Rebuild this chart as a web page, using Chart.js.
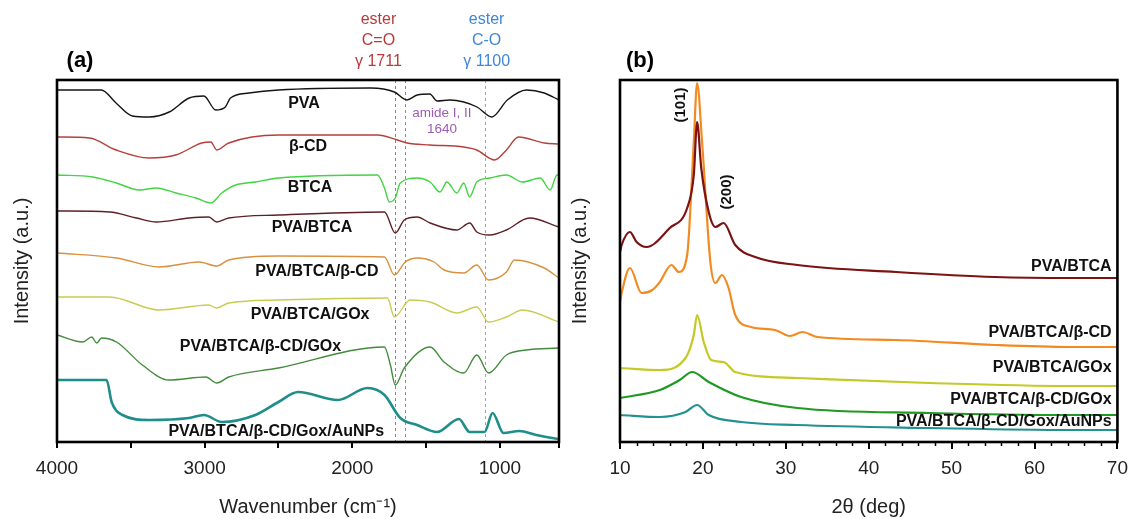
<!DOCTYPE html>
<html>
<head>
<meta charset="utf-8">
<script src="https://cdn.jsdelivr.net/npm/chart.js"></script>
<style>
  body { margin: 0; background: #fff; width: 1136px; height: 519px; position: relative; overflow: hidden; }
  canvas { position: absolute; top: 0; }
  #ftir { left: 0; }
  #xrd { left: 556px; }
</style>
</head>
<body>
<canvas id="ftir" width="568" height="519"></canvas>
<canvas id="xrd" width="580" height="519"></canvas>

<script>
// ---------- (a) FTIR : [wavenumber, offset intensity] ----------
const wnTicks = [4000, 3500, 3000, 2500, 2000, 1500, 1000, 600];
const ftirNames = ['PVA', 'β-CD', 'BTCA', 'PVA/BTCA', 'PVA/BTCA/β-CD', 'PVA/BTCA/GOx', 'PVA/BTCA/β-CD/GOx', 'PVA/BTCA/β-CD/Gox/AuNPs'];

const pva = [[4000,352],[3700,352],[3600,339],[3490,326],[3375,325],[3240,330],[3105,344],[3005,346],[2925,332],[2860,335],[2825,344],[2700,349],[2500,352],[1875,354],[1715,350],[1630,342],[1560,347],[1475,348],[1425,341],[1340,342],[1245,340],[1155,335],[1055,325],[950,342],[820,352],[700,349],[600,342]];
const betaCD = [[4000,305],[3780,304],[3600,292],[3375,284],[3195,287],[3020,299],[2958,300],[2918,292],[2837,299],[2500,307],[1830,307],[1695,302],[1630,299],[1473,297],[1245,295],[1157,292],[1036,282],[956,292],[875,305],[700,299],[600,298]];
const btca = [[4000,267],[3758,265],[3597,259],[3442,252],[3328,254],[3194,249],[3059,244],[2958,239],[2884,249],[2790,257],[2656,260],[2500,264],[1830,267],[1782,254],[1749,240],[1709,244],[1675,259],[1561,264],[1473,260],[1406,250],[1359,260],[1292,249],[1245,259],[1205,245],[1157,260],[1070,264],[956,267],[848,260],[727,264],[660,252],[613,267],[600,267]];
const pvaBtca = [[4000,231],[3644,230],[3462,224],[3328,220],[3106,224],[2972,225],[2918,220],[2837,224],[2500,227],[1782,230],[1709,209],[1648,222],[1561,225],[1473,219],[1292,212],[1205,219],[1157,210],[1070,207],[956,212],[801,224],[600,215]];
const pvaBtcaCD = [[4000,189],[3597,184],[3308,175],[3039,180],[2918,176],[2837,182],[2500,186],[1782,185],[1715,167],[1641,180],[1561,184],[1446,180],[1379,172],[1245,169],[1157,177],[1077,162],[956,170],[902,182],[700,174],[600,164]];
const pvaBtcaGox = [[4000,145],[3644,145],[3308,132],[2972,137],[2918,134],[2837,139],[2500,142],[1762,144],[1715,125],[1608,142],[1473,140],[1292,129],[1157,135],[1077,120],[956,125],[848,132],[600,120]];
const pvaBtcaCDGox = [[4000,107],[3825,100],[3765,105],[3731,99],[3698,104],[3597,100],[3422,77],[3241,62],[2992,65],[2918,59],[2837,65],[2500,74],[1782,95],[1742,77],[1709,57],[1648,74],[1473,95],[1379,80],[1245,69],[1157,87],[1077,69],[956,87],[821,92],[600,94]];
const pvaBtcaCDGoxAu = [[4000,62],[3664,62],[3630,40],[3556,27],[3375,22],[3106,24],[3005,27],[2884,20],[2656,27],[2500,40],[2367,50],[2098,42],[1897,54],[1782,47],[1675,24],[1561,17],[1426,10],[1278,23],[1205,10],[1104,10],[1050,29],[976,9],[869,11],[754,7],[606,3]];

const ftirColors = ['#151515', '#b5403b', '#42d442', '#5e2025', '#d9913f', '#c8cc52', '#438c3c', '#1f8e8a'];
const ftirLabelPos = [[2327,338],[2300,295],[2286,254],[2273,214],[2240,170],[2286,127],[2622,95],[2515,10]];
const bandLines = [1711, 1640, 1100];

// ---------- (b) XRD : [2θ, offset intensity] ----------
const degTicks = [10, 20, 30, 40, 50, 60, 70];
const degMinor = [12, 14, 16, 18, 22, 24, 26, 28, 32, 34, 36, 38, 42, 44, 46, 48, 52, 54, 56, 58, 62, 64, 66, 68];
const xrdNames = ['PVA/BTCA', 'PVA/BTCA/β-CD', 'PVA/BTCA/GOx', 'PVA/BTCA/β-CD/GOx', 'PVA/BTCA/β-CD/Gox/AuNPs'];

const xPvaBtca = [[10,190],[10.2,197],[11.2,210],[12,200],[13.2,195],[16,214],[18.1,234],[18.9,267],[19.3,320],[19.8,274],[20.7,230],[21.5,215],[22.5,219],[23.9,197],[26.3,185],[31.4,177],[43.3,170],[55.2,165],[64.2,164],[70,164]];
const xPvaBtcaCD = [[10,140],[10.2,149],[11.2,174],[12.6,149],[13.9,152],[14.8,160],[16.2,177],[17.1,170],[18.1,187],[18.9,300],[19.3,359],[19.9,300],[20.9,180],[21.5,159],[22.3,167],[23.1,154],[23.9,127],[25.8,115],[28.7,112],[30.5,106],[32,110],[33.8,105],[43.3,102],[55.2,97],[64.2,95],[70,95]];
const xPvaBtcaGox = [[10,74],[14.8,72],[17.9,84],[18.9,107],[19.3,127],[20.1,100],[21,82],[22.5,80],[23.9,70],[31.4,64],[47.3,59],[64.2,56],[70,56]];
const xPvaBtcaCDGox = [[10,44],[14.8,52],[17.2,62],[18.7,70],[20.7,60],[24.6,45],[31.4,34],[47.3,29],[64.2,27],[70,27]];
const xAu = [[10,27],[14.8,25],[17.9,30],[19.3,37],[20.7,27],[24.6,20],[31.4,17],[47.3,14],[64.2,12],[70,12]];

const xrdColors = ['#7c1212', '#f28a22', '#c3c927', '#1e9a22', '#23918f'];
const xrdLabelY = [175, 109, 74, 42, 20];

const FONT = '"Liberation Sans", Arial, sans-serif';
const toXY = arr => arr.map(p => ({ x: p[0], y: p[1] }));

const framePlugin = {
  id: 'frame',
  afterDraw(c) {
    const { ctx, chartArea: a } = c;
    ctx.save();
    ctx.lineWidth = 2.6;
    ctx.strokeStyle = '#000';
    ctx.strokeRect(a.left, a.top, a.right - a.left, a.bottom - a.top);
    ctx.restore();
  }
};

function yAxis(width, pad) {
  return {
    min: 0, max: 362,
    ticks: { display: false },
    grid: { display: false },
    border: { display: false },
    title: { display: true, text: 'Intensity (a.u.)', color: '#222', font: { family: FONT, size: 20 }, padding: { top: pad, bottom: 0 } },
    afterFit(s) { s.width = width; }
  };
}

// ---------- chart (a) ----------
const ftirSeries = [pva, betaCD, btca, pvaBtca, pvaBtcaCD, pvaBtcaGox, pvaBtcaCDGox, pvaBtcaCDGoxAu];

const ftirExtras = {
  id: 'ftirExtras',
  beforeDatasetsDraw(c) {
    const { ctx, chartArea: a, scales: { x } } = c;
    const cols = ['#c56a6a', '#9a7ec4', '#6ab8d6'];
    ctx.save();
    ctx.lineWidth = 1;
    ctx.setLineDash([3, 3]);
    bandLines.forEach((v, i) => {
      const px = Math.round(x.getPixelForValue(v)) + 0.5;
      ctx.strokeStyle = cols[i];
      ctx.beginPath(); ctx.moveTo(px, a.top); ctx.lineTo(px, a.bottom); ctx.stroke();
    });
    ctx.restore();
  },
  afterDraw(c) {
    const { ctx, scales: { x, y } } = c;
    ctx.save();
    ctx.textAlign = 'center';
    ctx.textBaseline = 'middle';
    ctx.fillStyle = '#111';
    ctx.font = 'bold 16px ' + FONT;
    ftirNames.forEach((n, i) => {
      ctx.fillText(n, x.getPixelForValue(ftirLabelPos[i][0]), y.getPixelForValue(ftirLabelPos[i][1]));
    });
    // band annotations
    ctx.font = '16px ' + FONT;
    ctx.fillStyle = '#b83a3a';
    const rx = x.getPixelForValue(1823);
    ['ester', 'C=O', 'γ 1711'].forEach((t, i) => ctx.fillText(t, rx, 20 + i * 21));
    ctx.fillStyle = '#3f86d6';
    const bx = x.getPixelForValue(1090);
    ['ester', 'C-O', 'γ 1100'].forEach((t, i) => ctx.fillText(t, bx, 20 + i * 21));
    ctx.font = '13.5px ' + FONT;
    ctx.fillStyle = '#9a5cb4';
    const ax = x.getPixelForValue(1393);
    ctx.fillText('amide I, II', ax, 113);
    ctx.fillText('1640', ax, 129);
    ctx.font = 'bold 22px ' + FONT;
    ctx.fillStyle = '#000';
    ctx.fillText('(a)', 80, 61);
    ctx.restore();
  }
};

new Chart(document.getElementById('ftir'), {
  type: 'line',
  data: {
    datasets: ftirSeries.map((s, i) => ({
      label: ftirNames[i],
      data: toXY(s),
      borderColor: ftirColors[i],
      borderWidth: i === 7 ? 2.6 : 1.4,
      pointRadius: 0,
      cubicInterpolationMode: 'monotone',
      fill: false
    }))
  },
  options: {
    responsive: false,
    animation: false,
    layout: { padding: { top: 80, left: 0, right: 5, bottom: 0 } },
    plugins: { legend: { display: false }, tooltip: { enabled: false } },
    scales: {
      x: {
        type: 'linear', reverse: true, min: 600, max: 4000,
        afterBuildTicks(s) { s.ticks = wnTicks.map(v => ({ value: v })); },
        ticks: { callback: v => (v % 1000 === 0 ? v : ''), color: '#222', font: { family: FONT, size: 19 }, padding: 9, maxRotation: 0, autoSkip: false },
        grid: { drawOnChartArea: false, drawTicks: true, tickLength: 6, color: '#000', lineWidth: 2 },
        border: { display: false },
        title: { display: true, text: 'Wavenumber (cm⁻¹)', color: '#222', font: { family: FONT, size: 20 }, padding: { top: 0, bottom: 0 } },
        afterFit(s) { s.height = 77; }
      },
      y: yAxis(57, 10)
    }
  },
  plugins: [ftirExtras, framePlugin]
});

// ---------- chart (b) ----------
const xrdSeries = [xPvaBtca, xPvaBtcaCD, xPvaBtcaGox, xPvaBtcaCDGox, xAu];

const xrdExtras = {
  id: 'xrdExtras',
  afterDraw(c) {
    const { ctx, chartArea: a, scales: { x, y } } = c;
    ctx.save();
    ctx.strokeStyle = '#000';
    ctx.lineWidth = 1.5;
    degMinor.forEach(v => {
      const px = Math.round(x.getPixelForValue(v)) + 0.5;
      ctx.beginPath(); ctx.moveTo(px, a.bottom); ctx.lineTo(px, a.bottom + 4); ctx.stroke();
    });
    ctx.fillStyle = '#111';
    ctx.font = 'bold 16px ' + FONT;
    ctx.textAlign = 'right';
    ctx.textBaseline = 'middle';
    xrdNames.forEach((n, i) => ctx.fillText(n, x.getPixelForValue(69.3), y.getPixelForValue(xrdLabelY[i])));
    // peak indices
    ctx.font = 'bold 15px ' + FONT;
    ctx.textAlign = 'center';
    [['(101)', 17.4, 337], ['(200)', 22.9, 250]].forEach(p => {
      ctx.save();
      ctx.translate(x.getPixelForValue(p[1]), y.getPixelForValue(p[2]));
      ctx.rotate(-Math.PI / 2);
      ctx.fillText(p[0], 0, 0);
      ctx.restore();
    });
    ctx.font = 'bold 22px ' + FONT;
    ctx.fillStyle = '#000';
    ctx.fillText('(b)', 84, 61);
    ctx.restore();
  }
};

new Chart(document.getElementById('xrd'), {
  type: 'line',
  data: {
    datasets: xrdSeries.map((s, i) => ({
      label: xrdNames[i],
      data: toXY(s),
      borderColor: xrdColors[i],
      borderWidth: 2.2,
      pointRadius: 0,
      cubicInterpolationMode: 'monotone',
      fill: false
    }))
  },
  options: {
    responsive: false,
    animation: false,
    layout: { padding: { top: 80, left: 0, right: 12, bottom: 0 } },
    plugins: { legend: { display: false }, tooltip: { enabled: false } },
    scales: {
      x: {
        type: 'linear', min: 10, max: 70,
        afterBuildTicks(s) { s.ticks = degTicks.map(v => ({ value: v })); },
        ticks: { color: '#222', font: { family: FONT, size: 19 }, padding: 8, maxRotation: 0, autoSkip: false },
        grid: { drawOnChartArea: false, drawTicks: true, tickLength: 7, color: '#000', lineWidth: 2 },
        border: { display: false },
        title: { display: true, text: '2θ (deg)', color: '#222', font: { family: FONT, size: 20 }, padding: { top: 0, bottom: 0 } },
        afterFit(s) { s.height = 77; }
      },
      y: yAxis(64, 12)
    }
  },
  plugins: [xrdExtras, framePlugin]
});
</script>
</body>
</html>
